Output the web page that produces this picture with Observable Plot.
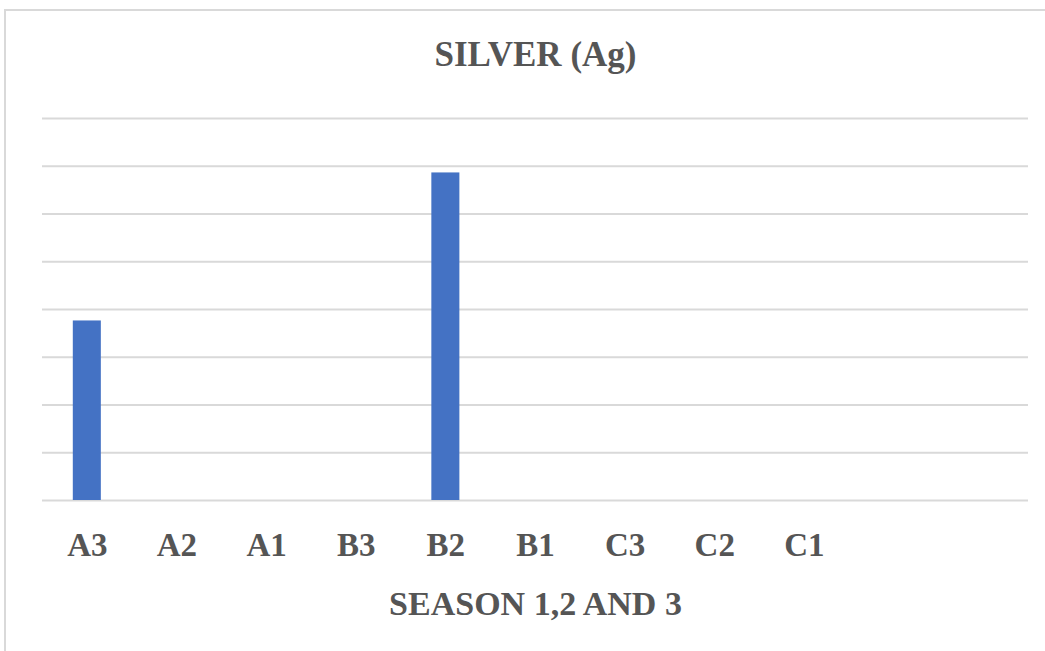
<!DOCTYPE html>
<html>
<head>
<meta charset="utf-8">
<script src="https://cdn.jsdelivr.net/npm/d3@7"></script>
<script src="https://cdn.jsdelivr.net/npm/@observablehq/plot@0.6"></script>
<style>
  html, body { margin: 0; padding: 0; background: #fff; }
  #wrap { position: relative; width: 1045px; height: 651px; overflow: hidden; }
  #frame { position: absolute; left: 4px; top: 9px; width: 1060px; height: 660px;
           border-top: 2px solid #d9d9d9; border-left: 2px solid #d9d9d9; box-sizing: border-box; }
  #chart { position: absolute; left: 0; top: 0; }
</style>
</head>
<body>
<div id="wrap"><div id="frame"></div><div id="chart"></div></div>
<script>
const title = "SILVER (Ag)";
const xLabel = "SEASON 1,2 AND 3";
const categories = ["A3", "A2", "A1", "B3", "B2", "B1", "C3", "C2", "C1"];
const emptySlots = ["", " "];
const values = [3.76, 0, 0, 0, 6.86, 0, 0, 0, 0];
const yTicks = [0, 1, 2, 3, 4, 5, 6, 7, 8];

const data = categories.map((c, i) => ({category: c, value: values[i]}));
const font = "'Liberation Serif', 'Times New Roman', serif";
const textColor = "#555555";

const chart = Plot.plot({
  width: 1045,
  height: 651,
  marginLeft: 42,
  marginRight: 17,
  marginTop: 118,
  marginBottom: 151,
  style: {fontFamily: font, background: "transparent"},
  x: {domain: [...categories, ...emptySlots], padding: 0, round: false},
  y: {domain: [0, 8], axis: null},
  marks: [
    Plot.gridY(yTicks, {stroke: "#d9d9d9", strokeOpacity: 1, strokeWidth: 2}),
    Plot.barY(data, {x: "category", y: "value", fill: "#4472C4", insetLeft: 30.8, insetRight: 30.8}),
    Plot.axisX({tickSize: 0, tickPadding: 32, fontSize: 33, fontWeight: "bold", fill: textColor, label: null}),
    Plot.text([title], {frameAnchor: "top", lineAnchor: "middle", dy: -63.5, text: d => d, fontSize: 35, fontWeight: "bold", fill: textColor, fontFamily: font}),
    Plot.text([xLabel], {frameAnchor: "bottom", lineAnchor: "middle", dy: 104, text: d => d, fontSize: 34, fontWeight: "bold", fill: textColor, fontFamily: font})
  ]
});
document.getElementById("chart").appendChild(chart);
</script>
</body>
</html>
